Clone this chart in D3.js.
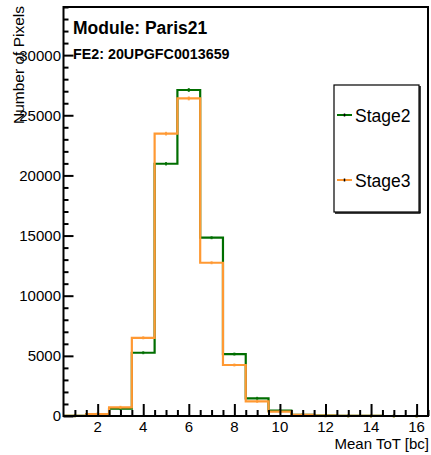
<!DOCTYPE html>
<html>
<head>
<meta charset="utf-8">
<script src="https://cdn.jsdelivr.net/npm/d3@7"></script>
<style>
  html, body { margin: 0; padding: 0; background: #fff; }
  svg { display: block; font-family: "Liberation Sans", Arial, sans-serif; }
</style>
</head>
<body>
<svg id="chart" width="431" height="455"></svg>
<script>
// ---- data ----
const binCenters = [1, 2, 3, 4, 5, 6, 7, 8, 9, 10, 11, 12, 13, 14, 15, 16];
const stage2 = [20, 150, 610, 5260, 20970, 27100, 14820, 5150, 1470, 440, 100, 30, 10, 5, 2, 1];
const stage3 = [20, 150, 720, 6500, 23470, 26400, 12740, 4240, 1220, 360, 100, 30, 10, 5, 2, 1];
const seriesNames = ["Stage2", "Stage3"];
const seriesColors = ["#006e00", "#ff9933"];
const xTicks = [2, 4, 6, 8, 10, 12, 14, 16];
const yTicks = [0, 5000, 10000, 15000, 20000, 25000, 30000];
const title1 = "Module: Paris21";
const title2 = "FE2: 20UPGFC0013659";
const xTitle = "Mean ToT [bc]";
const yTitle = "Number of Pixels";

// ---- layout ----
const L = 63.5, R = 428, T = 7, B = 416;
const svg = d3.select("#chart");
const x = d3.scaleLinear().domain([0.5, 16.5]).range([L, R]);
const y = d3.scaleLinear().domain([0, 34000]).range([B, T]);

// histogram step paths
function stepPath(vals) {
  const p = d3.path();
  p.moveTo(x(0.5), y(vals[0]));
  vals.forEach((v, i) => {
    const c = binCenters[i];
    if (i > 0) p.lineTo(x(c - 0.5), y(v));
    p.lineTo(x(c + 0.5), y(v));
  });
  return p.toString();
}

const series = [stage2, stage3];
series.forEach((vals, si) => {
  const g = svg.append("g");
  g.append("path")
    .attr("d", stepPath(vals))
    .attr("fill", "none")
    .attr("stroke", seriesColors[si])
    .attr("stroke-width", 2.2)
    .attr("stroke-linejoin", "miter");
  // error bars
  g.selectAll("line.err")
    .data(vals)
    .enter().append("line")
    .attr("x1", (d, i) => x(binCenters[i]))
    .attr("x2", (d, i) => x(binCenters[i]))
    .attr("y1", d => Math.min(y(d + Math.sqrt(d)), y(d) - 1.5))
    .attr("y2", d => Math.max(y(d - Math.sqrt(d)), y(d) + 1.5))
    .attr("stroke", seriesColors[si])
    .attr("stroke-width", 2)
    .attr("opacity", 0.8);
});

// frame
svg.append("rect")
  .attr("x", L).attr("y", T)
  .attr("width", R - L).attr("height", B - T)
  .attr("fill", "none")
  .attr("stroke", "#000")
  .attr("stroke-width", 2);

// y axis ticks (inside)
const yAxis = d3.axisRight(y)
  .tickValues(d3.range(0, 34001, 1000))
  .tickSize(0)
  .tickFormat("");
const yg = svg.append("g").attr("transform", `translate(${L},0)`).call(yAxis);
yg.select(".domain").remove();
yg.selectAll(".tick line")
  .attr("x2", d => d % 5000 === 0 ? 10 : 5)
  .attr("stroke", "#000").attr("stroke-width", 2);
// y labels
svg.append("g").selectAll("text")
  .data(yTicks).enter().append("text")
  .attr("x", L - 2.5)
  .attr("y", d => y(d))
  .attr("dy", "0.36em")
  .attr("text-anchor", "end")
  .attr("font-size", 15)
  .text(d => d);

// x axis ticks (inside, pointing up)
const xAxis = d3.axisTop(x)
  .tickValues(d3.range(1, 16.51, 0.5))
  .tickSize(0)
  .tickFormat("");
const xg = svg.append("g").attr("transform", `translate(0,${B})`).call(xAxis);
xg.select(".domain").remove();
xg.selectAll(".tick line")
  .attr("y2", d => d % 2 === 0 ? -12 : -6)
  .attr("stroke", "#000").attr("stroke-width", 2);
svg.append("g").selectAll("text")
  .data(xTicks).enter().append("text")
  .attr("x", d => x(d))
  .attr("y", 431.5)
  .attr("text-anchor", "middle")
  .attr("font-size", 15)
  .text(d => d);

// axis titles
svg.append("text")
  .attr("x", 429).attr("y", 448.5)
  .attr("text-anchor", "end")
  .attr("font-size", 15)
  .text(xTitle);
svg.append("text")
  .attr("transform", "translate(24,6) rotate(-90)")
  .attr("text-anchor", "end")
  .attr("font-size", 15.5)
  .text(yTitle);

// titles
svg.append("text")
  .attr("x", 73).attr("y", 34)
  .attr("font-size", 17.5).attr("font-weight", "bold")
  .text(title1);
svg.append("text")
  .attr("x", 73).attr("y", 59)
  .attr("font-size", 14.3).attr("font-weight", "bold")
  .text(title2);

// legend
const lg = svg.append("g");
lg.append("rect")
  .attr("x", 334).attr("y", 85).attr("width", 85).attr("height", 127)
  .attr("fill", "#fff").attr("stroke", "#000").attr("stroke-width", 1.2);
lg.append("line").attr("x1", 420).attr("x2", 420).attr("y1", 86).attr("y2", 213)
  .attr("stroke", "#000").attr("stroke-width", 1.5);
lg.append("line").attr("x1", 335).attr("x2", 420.5).attr("y1", 213).attr("y2", 213)
  .attr("stroke", "#000").attr("stroke-width", 1.5);
const legY = [115, 180];
seriesNames.forEach((name, i) => {
  lg.append("line")
    .attr("x1", 337).attr("x2", 352)
    .attr("y1", legY[i]).attr("y2", legY[i])
    .attr("stroke", seriesColors[i]).attr("stroke-width", 2);
  lg.append("line")
    .attr("x1", 344.5).attr("x2", 344.5)
    .attr("y1", legY[i] - 1.5).attr("y2", legY[i] + 1.5)
    .attr("stroke", "#000").attr("stroke-width", 1.5);
  lg.append("text")
    .attr("x", 355).attr("y", legY[i] + 6.5)
    .attr("font-size", 17.5)
    .text(name);
});
</script>
</body>
</html>
